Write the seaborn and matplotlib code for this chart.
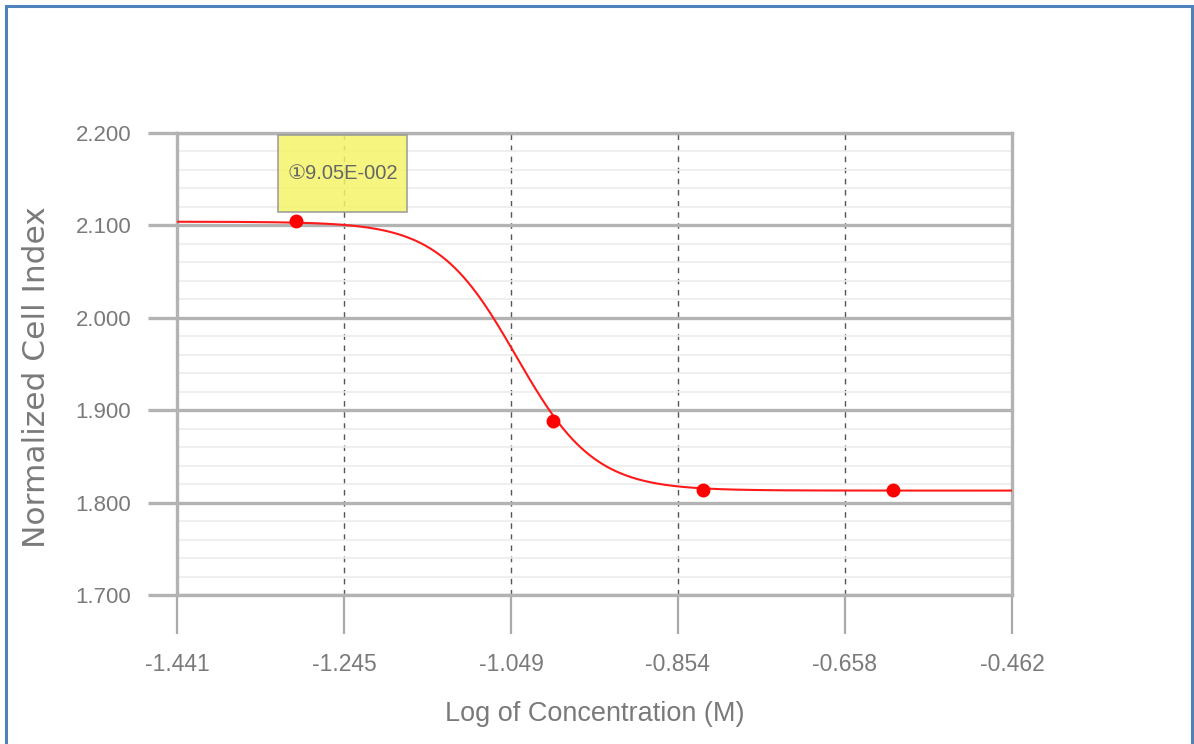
import numpy as np
import pandas as pd
import matplotlib
matplotlib.use("Agg")
import matplotlib.pyplot as plt
from matplotlib.patches import Rectangle
from matplotlib.ticker import MultipleLocator, FixedLocator, FixedFormatter
import seaborn as sns

# ---- data ----
log_conc = [-1.301, -1.000, -0.824, -0.602]
cell_index = [2.105, 1.888, 1.814, 1.814]
x_ticks = [-1.441, -1.245, -1.049, -0.854, -0.658, -0.462]
x_tick_labels = ["-1.441", "-1.245", "-1.049", "-0.854", "-0.658", "-0.462"]
y_ticks = [1.7, 1.8, 1.9, 2.0, 2.1, 2.2]
y_tick_labels = ["1.700", "1.800", "1.900", "2.000", "2.100", "2.200"]
# fitted 4-parameter logistic curve (as reported by the instrument software)
fit_top = 2.104
fit_bottom = 1.813
fit_ec50 = 9.05e-2
fit_hill = 9.5
annotation_text = "\u24609.05E-002"

sns.set_theme(style="white")
plt.rcParams["font.family"] = ["Liberation Sans", "DejaVu Sans"]

W, H = 1194, 744
fig = plt.figure(figsize=(W / 100, H / 100), dpi=100)
ax = fig.add_axes([177 / W, 1 - 595 / H, (1012 - 177) / W, (595 - 133) / H])

xmin, xmax = x_ticks[0], x_ticks[-1]
ax.set_xlim(xmin, xmax)
ax.set_ylim(y_ticks[0], y_ticks[-1])

# fitted curve
xs = np.linspace(xmin, xmax, 400)
ys = fit_bottom + (fit_top - fit_bottom) / (1 + 10 ** ((xs - np.log10(fit_ec50)) * fit_hill))
curve = pd.DataFrame({"x": xs, "y": ys})
sns.lineplot(data=curve, x="x", y="y", ax=ax, color="#ff1a1a", linewidth=1.5, zorder=4)

pts = pd.DataFrame({"x": log_conc, "y": cell_index})
sns.scatterplot(data=pts, x="x", y="y", ax=ax, color="#ff0000", s=100,
                edgecolor="#ff0000", linewidth=0, zorder=5)

grid_major = "#b3b3b3"
text_gray = "#7a7a7a"

# y axis: major and minor grid
ax.yaxis.set_major_locator(FixedLocator(y_ticks))
ax.yaxis.set_major_formatter(FixedFormatter(y_tick_labels))
ax.yaxis.set_minor_locator(MultipleLocator(0.02))
ax.grid(True, axis="y", which="major", color=grid_major, linewidth=2.4, linestyle="-", zorder=1)
ax.grid(True, axis="y", which="minor", color="#ececec", linewidth=1.2, linestyle="-", zorder=0.5)
ax.tick_params(axis="y", which="major", direction="out", length=21, width=2.4,
               color=grid_major, labelsize=16, labelcolor=text_gray, pad=12, left=True)
ax.tick_params(axis="y", which="minor", length=0)

# x axis: dashed interior grid
ax.xaxis.set_major_locator(FixedLocator(x_ticks))
ax.xaxis.set_major_formatter(FixedFormatter(x_tick_labels))
ax.grid(True, axis="x", which="major", color="#555555", linewidth=1.0,
        linestyle=(0, (4, 4)), zorder=1)
ax.tick_params(axis="x", which="major", direction="out", length=28, width=1.6,
               color="#aaaaaa", labelsize=16.5, labelcolor=text_gray, pad=14, bottom=True)

for side in ["left", "right", "top", "bottom"]:
    ax.spines[side].set_color(grid_major)
    ax.spines[side].set_linewidth(2.4)
ax.set_axisbelow(True)

ax.set_xlabel("Log of Concentration (M)", fontsize=19.5, color=text_gray, labelpad=18)
ax.set_ylabel("Normalized Cell Index", fontsize=22.5, color=text_gray,
              fontfamily="DejaVu Sans")
ax.yaxis.set_label_coords(-0.151, 0.472)

# annotation box
bx0 = xmin + (278 - 177) / 835 * (xmax - xmin)
bw = 129 / 835 * (xmax - xmin)
by1 = y_ticks[-1] - (135 - 133) / 462 * 0.5
bh = 77 / 462 * 0.5
ax.add_patch(Rectangle((bx0, by1 - bh), bw, bh, facecolor="#f4f46a", alpha=0.85,
                       edgecolor="#999999", linewidth=1.3, zorder=6, clip_on=False))
ax.text(bx0 + bw / 2, by1 - bh / 2, annotation_text, ha="center", va="center",
        fontsize=14.5, color="#666666", zorder=7,
        family=["Liberation Sans", "DejaVu Sans"])

# outer blue frame
fig.patches.append(Rectangle((5.5 / W, -0.05), (1192 - 5.5) / W, 1.05 - 5.5 / H,
                             transform=fig.transFigure, fill=False,
                             edgecolor="#4f81bd", linewidth=2.2))

fig.savefig("out.png", dpi=100)
